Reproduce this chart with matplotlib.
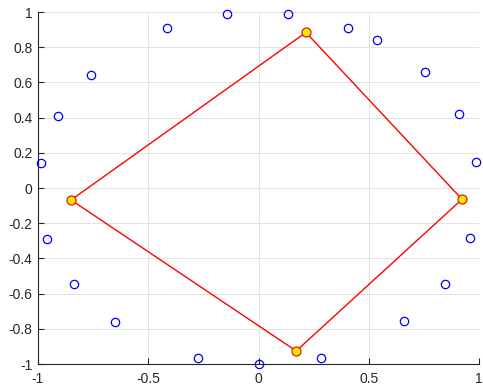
import numpy as np
import matplotlib
matplotlib.use('Agg')
import matplotlib.pyplot as plt

plt.rcParams['font.family'] = ['Liberation Sans', 'DejaVu Sans']

# points around the unit circle
cx = [-0.145, 0.136, -0.417, 0.406, 0.539, -0.759, 0.756, -0.909, 0.908, -0.986,
      0.986, -0.958, 0.959, -0.839, 0.845, -0.651, 0.659, -0.273, 0.283, 0.003]
cy = [0.989, 0.989, 0.909, 0.909, 0.843, 0.642, 0.657, 0.409, 0.419, 0.140,
      0.146, -0.290, -0.282, -0.547, -0.545, -0.763, -0.756, -0.968, -0.968, -1.0]

# hull / polygon vertices (closed)
px = [0.215, 0.923, 0.171, -0.850, 0.215]
py = [0.884, -0.064, -0.926, -0.068, 0.884]

fig = plt.figure(figsize=(4.83, 3.89), dpi=100)
ax = fig.add_axes([38/483, 25/389, 441/483, 352/389])

ax.plot(px, py, '-', color='red', lw=1.0, zorder=3)
ax.plot(px[:-1], py[:-1], 'o', ms=6.5, mfc='#ffe600', mec='#e02000', mew=0.9,
        zorder=4, clip_on=False)
ax.plot(cx, cy, 'o', ms=6, mfc='none', mec='blue', mew=0.9, zorder=5, clip_on=False)

ax.set_xlim(-1, 1)
ax.set_ylim(-1, 1)
ax.set_xticks([-1, -0.5, 0, 0.5, 1])
ax.set_xticklabels(['-1', '-0.5', '0', '0.5', '1'])
ax.set_yticks(np.round(np.arange(-1, 1.01, 0.2), 1))
ax.set_yticklabels(['-1', '-0.8', '-0.6', '-0.4', '-0.2', '0', '0.2', '0.4', '0.6', '0.8', '1'])

ax.grid(True, color='#e3e3e3', lw=0.7)
ax.set_axisbelow(True)
for s in ['top', 'right']:
    ax.spines[s].set_visible(False)
for s in ['left', 'bottom']:
    ax.spines[s].set_color('#262626')
    ax.spines[s].set_linewidth(0.8)
ax.tick_params(direction='in', length=4, width=0.8, colors='#262626',
               labelsize=10, labelcolor='#262626')
ax.tick_params(axis='x', pad=6)
ax.tick_params(axis='y', pad=4)

fig.savefig('out.png', dpi=100)
